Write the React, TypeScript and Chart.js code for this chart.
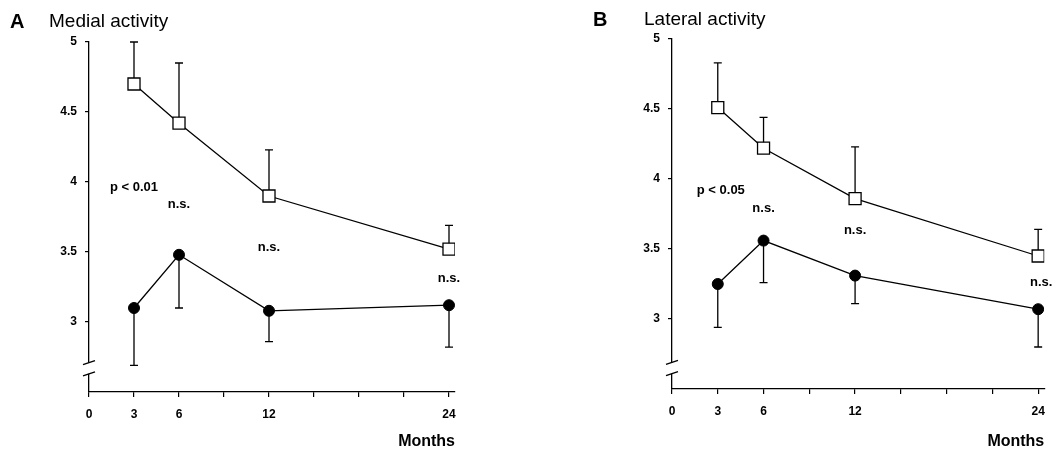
import React, { useEffect, useRef } from 'react';
import Chart from 'chart.js/auto';

const months = [3, 6, 12, 24];
const xTickValues = [0, 3, 6, 9, 12, 15, 18, 21, 24];
const xTickLabels = ['0', '3', '6', '', '12', '', '', '', '24'];
const yTickValues = [3, 3.5, 4, 4.5, 5];
const yTickLabels = ['3', '3.5', '4', '4.5', '5'];

const medialUpper = [4.7, 4.42, 3.9, 3.52];
const medialUpperSD = [0.3, 0.43, 0.33, 0.17];
const medialLower = [3.1, 3.48, 3.08, 3.12];
const medialLowerSD = [0.41, 0.38, 0.22, 0.3];
const medialNoteText = ['p < 0.01', 'n.s.', 'n.s.', 'n.s.'];
const medialNoteX = [3, 6, 12, 24];
const medialNoteY = [3.96, 3.84, 3.53, 3.31];

const lateralUpper = [4.51, 4.22, 3.86, 3.45];
const lateralUpperSD = [0.32, 0.22, 0.37, 0.19];
const lateralLower = [3.25, 3.56, 3.31, 3.07];
const lateralLowerSD = [0.31, 0.3, 0.2, 0.27];
const lateralNoteText = ['p < 0.05', 'n.s.', 'n.s.', 'n.s.'];
const lateralNoteX = [3.2, 6, 12, 24.2];
const lateralNoteY = [3.92, 3.79, 3.63, 3.26];

const FONT = '"Liberation Sans", Arial, Helvetica, sans-serif';

type PanelProps = {
  letter: string;
  title: string;
  upper: number[];
  upperSD: number[];
  lower: number[];
  lowerSD: number[];
  noteText: string[];
  noteX: number[];
  noteY: number[];
  width: number;
  axisLeft: number;
  top: number;
  bottom: number;
  right: number;
  letterX: number;
  titleX: number;
  titleY: number;
  breakHi: number;
  breakLo: number;
};

function Panel(p: PanelProps) {
  const ref = useRef<HTMLCanvasElement>(null);
  useEffect(() => {
    const canvas = ref.current!;
    const H = 450;
    const upperData = months.map((m, i) => ({ x: m, y: p.upper[i] }));
    const lowerData = months.map((m, i) => ({ x: m, y: p.lower[i] }));

    const deco = {
      id: 'deco',
      beforeDatasetsDraw(chart: any) {
        const ctx = chart.ctx;
        const xs = chart.scales.x;
        const ys = chart.scales.y;
        ctx.save();
        ctx.strokeStyle = '#000';
        ctx.lineWidth = 1.3;
        const bar = (m: number, v: number, e: number) => {
          const x = xs.getPixelForValue(m);
          const y0 = ys.getPixelForValue(v);
          const y1 = ys.getPixelForValue(e);
          ctx.beginPath();
          ctx.moveTo(x, y0);
          ctx.lineTo(x, y1);
          ctx.moveTo(x - 4, y1);
          ctx.lineTo(x + 4, y1);
          ctx.stroke();
        };
        months.forEach((m, i) => {
          bar(m, p.upper[i], p.upper[i] + p.upperSD[i]);
          bar(m, p.lower[i], p.lower[i] - p.lowerSD[i]);
        });
        ctx.restore();
      },
      afterDraw(chart: any) {
        const ctx = chart.ctx;
        const xs = chart.scales.x;
        const ys = chart.scales.y;
        const area = chart.chartArea;
        ctx.save();
        // notes
        ctx.fillStyle = '#000';
        ctx.font = `bold 13px ${FONT}`;
        ctx.textAlign = 'center';
        ctx.textBaseline = 'middle';
        p.noteText.forEach((t, i) => {
          ctx.fillText(t, xs.getPixelForValue(p.noteX[i]), ys.getPixelForValue(p.noteY[i]));
        });
        // axis break
        const ax = area.left;
        const yHi = ys.getPixelForValue(p.breakHi);
        const yLo = ys.getPixelForValue(p.breakLo);
        ctx.fillStyle = '#fff';
        ctx.fillRect(ax - 3, yHi, 6, yLo - yHi);
        ctx.strokeStyle = '#000';
        ctx.lineWidth = 1.4;
        ctx.beginPath();
        ctx.moveTo(ax - 6, yHi + 2);
        ctx.lineTo(ax + 6, yHi - 2);
        ctx.moveTo(ax - 6, yLo + 2);
        ctx.lineTo(ax + 6, yLo - 2);
        ctx.stroke();
        // titles
        ctx.fillStyle = '#000';
        ctx.textAlign = 'left';
        ctx.textBaseline = 'middle';
        ctx.font = `bold 20px ${FONT}`;
        ctx.fillText(p.letter, p.letterX, p.titleY);
        ctx.font = `19px ${FONT}`;
        ctx.fillText(p.title, p.titleX, p.titleY);
        ctx.font = `bold 16px ${FONT}`;
        ctx.textAlign = 'right';
        ctx.fillText('Months', area.right, 442);
        ctx.restore();
      },
    };

    const chart = new Chart(canvas, {
      type: 'scatter',
      data: {
        datasets: [
          {
            data: upperData,
            showLine: true,
            borderColor: '#000',
            borderWidth: 1.3,
            pointStyle: 'rect',
            pointRadius: 8.5,
            pointBackgroundColor: '#fff',
            pointBorderColor: '#000',
            pointBorderWidth: 1.3,
          },
          {
            data: lowerData,
            showLine: true,
            borderColor: '#000',
            borderWidth: 1.3,
            pointStyle: 'circle',
            pointRadius: 5.5,
            pointBackgroundColor: '#000',
            pointBorderColor: '#000',
            pointBorderWidth: 1,
          },
        ],
      },
      options: {
        responsive: false,
        animation: false,
        events: [],
        layout: { padding: { left: 0, top: p.top, right: p.width - p.right, bottom: 0 } },
        plugins: { legend: { display: false }, tooltip: { enabled: false } },
        scales: {
          x: {
            type: 'linear',
            min: 0,
            max: 24.4,
            afterFit: (s: any) => { s.height = H - p.bottom; },
            afterBuildTicks: (s: any) => { s.ticks = xTickValues.map((v) => ({ value: v })); },
            border: { display: true, color: '#000', width: 1.3 },
            grid: { drawOnChartArea: false, drawTicks: true, tickLength: 5, color: '#000', lineWidth: 1.2 },
            ticks: {
              color: '#000',
              font: { family: FONT, size: 12, weight: 'bold' },
              padding: 10,
              maxRotation: 0,
              autoSkip: false,
              callback: (v: any) => {
                const i = xTickValues.indexOf(Number(v));
                return i >= 0 ? xTickLabels[i] : '';
              },
            },
          },
          y: {
            type: 'linear',
            min: 2.5,
            max: 5,
            afterFit: (s: any) => { s.width = p.axisLeft; },
            afterBuildTicks: (s: any) => { s.ticks = yTickValues.map((v) => ({ value: v })); },
            border: { display: true, color: '#000', width: 1.3 },
            grid: { drawOnChartArea: false, drawTicks: true, tickLength: 4, color: '#000', lineWidth: 1.2 },
            ticks: {
              color: '#000',
              font: { family: FONT, size: 12, weight: 'bold' },
              padding: 8,
              autoSkip: false,
              callback: (v: any) => {
                const i = yTickValues.indexOf(Number(v));
                return i >= 0 ? yTickLabels[i] : '';
              },
            },
          },
        },
      },
      plugins: [deco],
    } as any);
    return () => chart.destroy();
  }, []);
  return <canvas ref={ref} width={p.width} height={450} style={{ display: 'block', width: p.width, height: 450 }} />;
}

export default function App() {
  return (
    <div style={{ position: 'absolute', left: 0, top: 0, width: 1055, height: 450, background: '#fff', display: 'flex' }}>
      <Panel
        letter="A"
        title="Medial activity"
        upper={medialUpper}
        upperSD={medialUpperSD}
        lower={medialLower}
        lowerSD={medialLowerSD}
        noteText={medialNoteText}
        noteX={medialNoteX}
        noteY={medialNoteY}
        width={527}
        axisLeft={89}
        top={42}
        bottom={392}
        right={455}
        letterX={10}
        titleX={49}
        titleY={22}
        breakHi={2.71}
        breakLo={2.63}
      />
      <Panel
        letter="B"
        title="Lateral activity"
        upper={lateralUpper}
        upperSD={lateralUpperSD}
        lower={lateralLower}
        lowerSD={lateralLowerSD}
        noteText={lateralNoteText}
        noteX={lateralNoteX}
        noteY={lateralNoteY}
        width={528}
        axisLeft={145}
        top={39}
        bottom={389}
        right={518}
        letterX={66}
        titleX={117}
        titleY={20}
        breakHi={2.69}
        breakLo={2.61}
      />
    </div>
  );
}
